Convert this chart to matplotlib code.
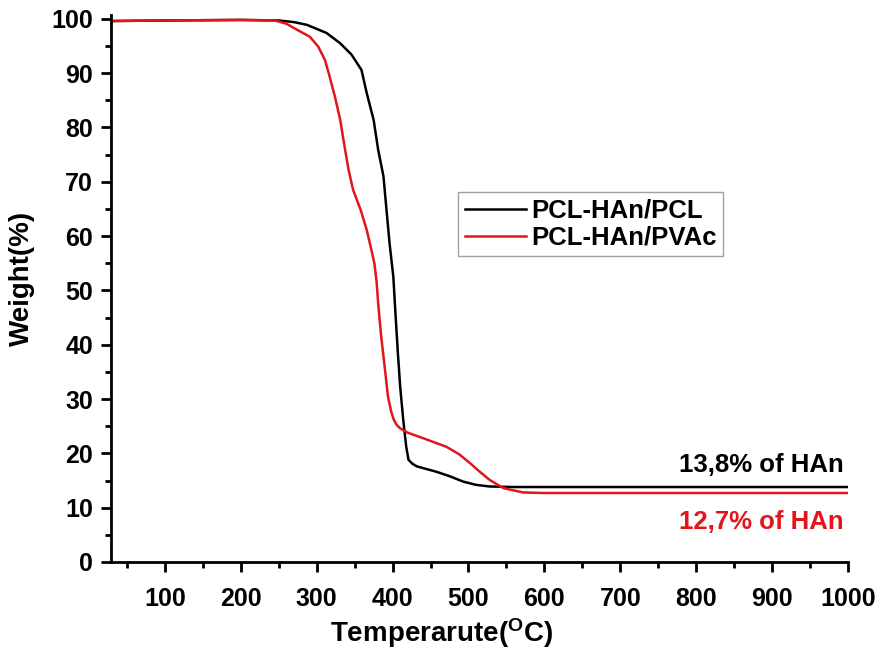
import matplotlib
matplotlib.use("Agg")
import matplotlib.pyplot as plt
import numpy as np
from matplotlib.ticker import MultipleLocator

plt.rcParams['font.family'] = ['Liberation Sans', 'DejaVu Sans']
plt.rcParams['font.weight'] = 'bold'

# TGA curves: temperature (°C) vs remaining weight (%)
temp_pcl = [30, 100, 200, 250, 270, 287, 313, 331, 346, 359, 366, 375, 381, 388, 392, 396, 401,
            403, 407, 410, 414, 418, 421, 426, 432, 445, 458, 475, 493, 510, 528, 560, 600, 700, 800, 900, 1000]
weight_pcl = [99.6, 99.7, 99.8, 99.7, 99.4, 98.9, 97.4, 95.5, 93.4, 90.6, 86.3, 81.4, 75.9, 71.0, 64.8, 58.7, 52.5,
              47.6, 38.4, 32.3, 26.2, 21.2, 18.8, 18.1, 17.6, 17.1, 16.6, 15.8, 14.8, 14.2, 13.9, 13.8, 13.8, 13.8, 13.8, 13.8, 13.8]

temp_pvac = [30, 100, 200, 245, 260, 274, 291, 302, 311, 317, 324, 331, 336, 342, 348, 358, 366, 372,
             376, 379, 381, 385, 390, 394, 398, 401, 405, 410, 420, 440, 471, 488, 502, 515, 528, 546, 572, 600, 700, 800, 900, 1000]
weight_pvac = [99.6, 99.7, 99.8, 99.7, 99.1, 98.0, 96.7, 94.9, 92.4, 89.4, 85.7, 81.4, 77.1, 72.2, 68.5, 64.8, 61.1, 57.5,
               55.0, 51.5, 47.6, 41.5, 35.4, 30.4, 27.8, 26.4, 25.3, 24.6, 23.8, 22.8, 21.2, 19.8, 18.2, 16.6, 15.1, 13.6, 12.8, 12.7, 12.7, 12.7, 12.7, 12.7]

labels = ['PCL-HAn/PCL', 'PCL-HAn/PVAc']
residue_text = ['13,8% of HAn', '12,7% of HAn']
colors = ['black', '#e3151c']

fig = plt.figure(figsize=(8.81, 6.54), dpi=100)
ax = fig.add_axes([0.126, 0.1407, 0.8365, 0.8363])

ax.plot(temp_pcl, weight_pcl, color=colors[0], lw=1.8, label=labels[0], solid_joinstyle='round')
ax.plot(temp_pvac, weight_pvac, color=colors[1], lw=1.8, label=labels[1], solid_joinstyle='round')

ax.set_xlim(29, 1000)
ax.set_ylim(0, 100.7)
ax.xaxis.set_major_locator(MultipleLocator(100))
ax.xaxis.set_minor_locator(MultipleLocator(50))
ax.yaxis.set_major_locator(MultipleLocator(10))
ax.yaxis.set_minor_locator(MultipleLocator(5))
ax.set_xticks(np.arange(100, 1001, 100))

for side in ['top', 'right']:
    ax.spines[side].set_visible(False)
for side in ['left', 'bottom']:
    ax.spines[side].set_linewidth(2)

ax.tick_params(which='major', direction='out', length=7.5, width=2, labelsize=18)
ax.tick_params(which='minor', direction='out', length=4.5, width=2)
ax.tick_params(axis='x', which='major', pad=10.5)
ax.tick_params(axis='y', which='major', pad=5.5)
for lab in ax.get_xticklabels() + ax.get_yticklabels():
    lab.set_fontweight('bold')

ax.set_xlabel(r'Temperarute($\mathregular{^{O}}$C)', fontsize=20, fontweight='bold')
ax.xaxis.set_label_coords(0.449, -0.1)
ax.set_ylabel('Weight(%)', fontsize=20, fontweight='bold')
ax.yaxis.set_label_coords(-0.103, 0.519)

leg = ax.legend(loc='upper left', bbox_to_anchor=(0.471, 0.676), frameon=True, fancybox=False,
                prop={'size': 18.5, 'weight': 'bold'}, handlelength=2.4, borderpad=0.25,
                labelspacing=0.12, handletextpad=0.2, borderaxespad=0, handleheight=0.6)
leg.get_frame().set_edgecolor('#888888')
leg.get_frame().set_linewidth(1.0)

ax.text(994, 17.9, residue_text[0], color=colors[0], fontsize=18.5, fontweight='bold',
        ha='right', va='center')
ax.text(994, 7.4, residue_text[1], color=colors[1], fontsize=18.5, fontweight='bold',
        ha='right', va='center')

fig.savefig('out.png', dpi=100)
